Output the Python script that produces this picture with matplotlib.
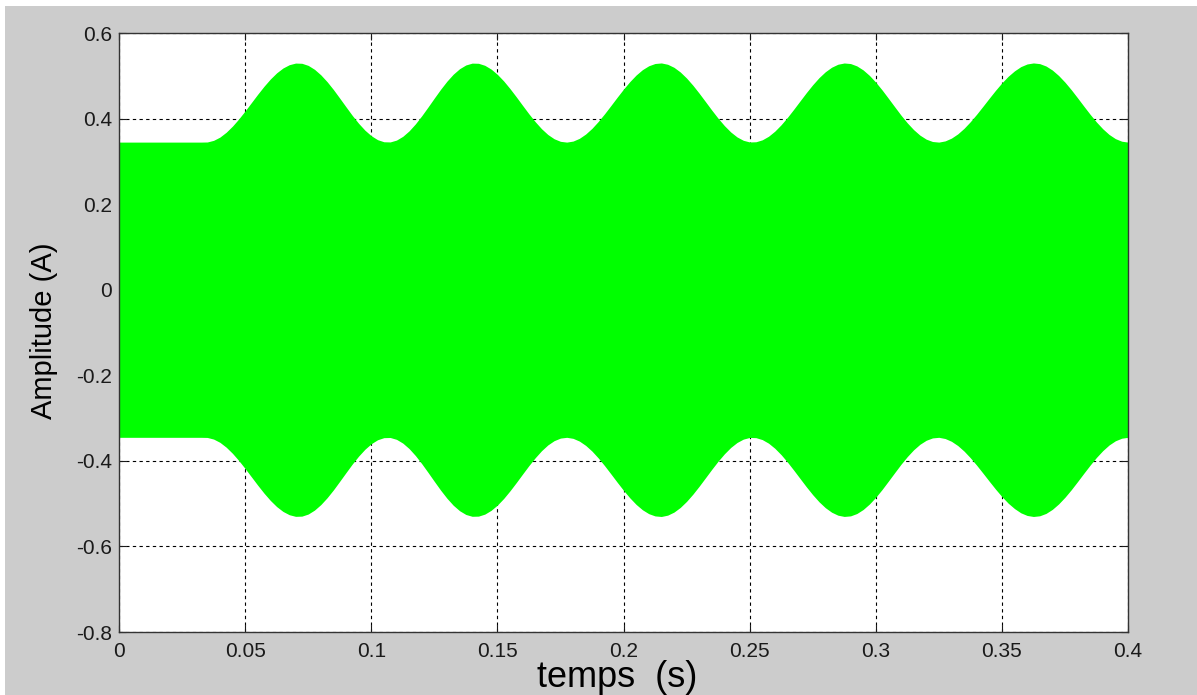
import numpy as np
import matplotlib
matplotlib.use("Agg")
import matplotlib.pyplot as plt
from matplotlib.patches import Rectangle

# enveloppe du courant (valeur crête, A), relevée tous les 2.5 ms de 0 à 0.4 s
envelope = [
    0.345, 0.345, 0.345, 0.345, 0.345, 0.345, 0.345, 0.345, 0.345, 0.345,
    0.345, 0.345, 0.345, 0.345,
    0.3453, 0.3491, 0.3567, 0.3681, 0.3825, 0.3994, 0.4180, 0.4375, 0.4570,
    0.4756, 0.4925, 0.5069, 0.5182, 0.5259, 0.5297,
    0.5292, 0.5243, 0.5151, 0.5022, 0.4862, 0.4678, 0.4477, 0.4273, 0.4072,
    0.3888, 0.3728, 0.3599, 0.3507, 0.3458,
    0.3454, 0.3497, 0.3585, 0.3713, 0.3876, 0.4065, 0.4270, 0.4480, 0.4685,
    0.4874, 0.5037, 0.5165, 0.5253, 0.5296,
    0.5292, 0.5245, 0.5157, 0.5033, 0.4879, 0.4700, 0.4507, 0.4307, 0.4110,
    0.3927, 0.3763, 0.3628, 0.3528, 0.3468,
    0.3450, 0.3474, 0.3538, 0.3639, 0.3772, 0.3933, 0.4113, 0.4305, 0.4500,
    0.4689, 0.4864, 0.5018, 0.5143, 0.5234, 0.5287,
    0.5300, 0.5269, 0.5198, 0.5089, 0.4947, 0.4779, 0.4592, 0.4395, 0.4197,
    0.4007, 0.3835, 0.3687, 0.3571, 0.3492, 0.3453,
    0.3458, 0.3503, 0.3587, 0.3707, 0.3857, 0.4030, 0.4219, 0.4414, 0.4608,
    0.4791, 0.4956, 0.5094, 0.5200, 0.5270, 0.5299,
    0.5286, 0.5231, 0.5137, 0.5008, 0.4850, 0.4670, 0.4474, 0.4276, 0.4080,
    0.3900, 0.3742, 0.3613, 0.3519, 0.3464,
    0.3450, 0.3478, 0.3543, 0.3642, 0.3772, 0.3928, 0.4102, 0.4288, 0.4477,
    0.4662, 0.4835, 0.4989, 0.5115, 0.5214, 0.5276, 0.5300,
    0.5284, 0.5228, 0.5134, 0.5006, 0.4851, 0.4675, 0.4484, 0.4289, 0.4098,
    0.3919, 0.3761, 0.3629, 0.3531, 0.3471, 0.3450,
]

x_ticks = [0, 0.05, 0.1, 0.15, 0.2, 0.25, 0.3, 0.35, 0.4]
x_labels = ["0", "0.05", "0.1", "0.15", "0.2", "0.25", "0.3", "0.35", "0.4"]
y_ticks = [-0.8, -0.6, -0.4, -0.2, 0, 0.2, 0.4, 0.6]
y_labels = ["-0.8", "-0.6", "-0.4", "-0.2", "0", "0.2", "0.4", "0.6"]

t = np.linspace(0, 0.4, len(envelope))
env = np.array(envelope)

plt.rcParams["font.family"] = ["Liberation Sans", "DejaVu Sans"]

fig = plt.figure(figsize=(11.97, 6.95), dpi=100, facecolor="white")
# fond gris de la fenêtre
fig.patches.append(Rectangle((5 / 1197, 0), 1, 1 - 6 / 695,
                             transform=fig.transFigure, facecolor="#cccccc",
                             edgecolor="none", zorder=-10))

ax = fig.add_axes([119 / 1197, 1 - 632 / 695, 1009 / 1197, 599 / 695])
ax.set_facecolor("white")

# quadrillage sous le signal
ax.set_axisbelow(True)
ax.grid(True, color="black", linestyle=(0, (3, 3)), linewidth=0.8)

# signal : bande verte entre -enveloppe et +enveloppe
ax.fill_between(t, -env, env, color="#00ff00", linewidth=0, zorder=1)

ax.set_xlim(0, 0.4)
ax.set_ylim(-0.8, 0.6)
ax.set_xticks(x_ticks)
ax.set_xticklabels(x_labels)
ax.set_yticks(y_ticks)
ax.set_yticklabels(y_labels)
ax.tick_params(direction="in", length=5, width=0.8, top=True, right=True,
               labelsize=15, colors="#1a1a1a")
ax.tick_params(axis="x", pad=7)
ax.tick_params(axis="y", pad=5)
for s in ax.spines.values():
    s.set_color("#333333")
    s.set_linewidth(1.0)
    s.set_zorder(3)

fig.text(44 / 1197, 1 - 331 / 695, "Amplitude (A)", rotation=90,
         ha="center", va="center", fontsize=21)
fig.text(617 / 1197, 1 - 687 / 695, "temps  (s)", ha="center",
         va="baseline", fontsize=26)

fig.savefig("out.png", dpi=100, facecolor=fig.get_facecolor())
